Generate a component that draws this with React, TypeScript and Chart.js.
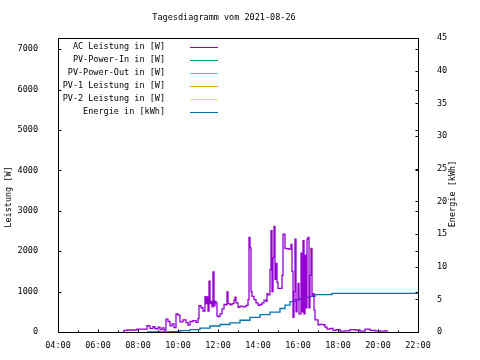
import React, { useEffect, useRef } from "react";
import { Chart, registerables } from "chart.js";

Chart.register(...registerables);

const chartTitle = "Tagesdiagramm vom 2021-08-26";
const leftAxisTitle = "Leistung [W]";
const rightAxisTitle = "Energie [kWh]";

const seriesLabels = [
  "AC Leistung in [W]",
  "PV-Power-In in [W]",
  "PV-Power-Out in [W]",
  "PV-1 Leistung in [W]",
  "PV-2 Leistung in [W]",
  "Energie in [kWh]",
];
const seriesColors = ["#9400D3", "#009E73", "#56B4E9", "#E69F00", "#F0E442", "#0072B2"];

const xTickLabels = ["04:00", "06:00", "08:00", "10:00", "12:00", "14:00", "16:00", "18:00", "20:00", "22:00"];
const xMinorTicks = ["05:00", "07:00", "09:00", "11:00", "13:00", "15:00", "17:00", "19:00", "21:00"];
const leftTicks = [0, 1000, 2000, 3000, 4000, 5000, 6000, 7000];
const rightTicks = [0, 5, 10, 15, 20, 25, 30, 35, 40, 45];
const leftMax = 7275;
const rightMax = 45;

const acTimes = [
  "07:15", "07:18", "07:27", "07:45", "07:57", "08:15", "08:27", "08:33", "08:36", "08:45",
  "08:51", "09:00", "09:06", "09:12", "09:18", "09:24", "09:30", "09:36", "09:42", "09:48",
  "09:54", "10:00", "10:06", "10:15", "10:24", "10:30", "10:36", "10:45", "10:54", "11:00",
  "11:03", "11:09", "11:15", "11:21", "11:24", "11:27", "11:30", "11:33", "11:36", "11:39",
  "11:42", "11:45", "11:48", "11:51", "11:54", "11:57", "12:00", "12:06", "12:12", "12:18",
  "12:24", "12:27", "12:30", "12:36", "12:42", "12:48", "12:51", "12:54", "13:00", "13:06",
  "13:15", "13:24", "13:30", "13:33", "13:36", "13:39", "13:42", "13:48", "13:54", "14:00",
  "14:06", "14:12", "14:18", "14:24", "14:27", "14:30", "14:36", "14:39", "14:42", "14:45",
  "14:48", "14:51", "14:54", "14:57", "15:00", "15:06", "15:12", "15:15", "15:21", "15:27",
  "15:33", "15:39", "15:42", "15:45", "15:48", "15:51", "15:54", "15:57", "16:00", "16:03",
  "16:09", "16:12", "16:15", "16:18", "16:21", "16:24", "16:27", "16:30", "16:33", "16:36",
  "16:39", "16:42", "16:45", "16:48", "16:51", "16:54", "17:00", "17:06", "17:15", "17:21",
  "17:27", "17:36", "17:45", "17:54", "18:06", "18:21", "18:36", "18:51", "19:06", "19:21",
  "19:36", "19:51", "20:06", "20:21", "20:27",
];
const acWatts = [
  0, 40, 50, 50, 70, 70, 155, 150, 90, 130,
  80, 120, 60, 100, 50, 320, 260, 150, 200, 110,
  445, 420, 250, 300, 230, 170, 260, 280, 240, 330,
  650, 600, 520, 875, 700, 870, 520, 1260, 700, 760,
  620, 1490, 650, 760, 720, 400, 380, 450, 570, 680,
  670, 990, 700, 670, 700, 790, 860, 720, 610, 640,
  620, 660, 800, 2340, 2080, 1000, 880, 800, 720, 660,
  680, 720, 790, 760, 950, 920, 1540, 2510, 1000, 1840,
  2610, 1300, 1700, 1230, 1080, 1080, 1400, 2420, 2070, 2060,
  2050, 2170, 1500, 360, 1000, 2300, 500, 800, 1200, 450,
  1950, 500, 2260, 450, 1900, 600, 2300, 2340, 600, 1400,
  2070, 900, 950, 540, 300, 300, 180, 190, 180, 120,
  70, 90, 40, 60, 20, 30, 60, 50, 20, 70,
  40, 30, 20, 30, 0,
];

const energyTimes = [
  "08:27", "09:06", "09:36", "10:06", "10:36", "11:06", "11:36", "12:06", "12:36", "13:06",
  "13:36", "14:06", "14:36", "15:06", "15:21", "15:36", "15:51", "16:06", "16:21", "16:36",
  "16:51", "17:39", "17:42", "22:00",
];
const energyKwh = [
  0, 0.02, 0.05, 0.2, 0.36, 0.6, 0.92, 1.15, 1.4, 1.8,
  2.25, 2.65, 3.03, 3.6, 4.1, 4.64, 4.95, 5.15, 5.32, 5.46,
  5.71, 5.74, 5.92, 5.92,
];

const toMin = (s: string) => {
  const [h, m] = s.split(":").map(Number);
  return h * 60 + m;
};
const fmtMin = (v: number) => {
  const h = Math.floor(v / 60);
  const m = v % 60;
  return `${String(h).padStart(2, "0")}:${String(m).padStart(2, "0")}`;
};

const FONT = "DejaVu Sans Mono";
const FS = 8.5;

const framePlugin = {
  id: "gnuframe",
  afterDraw(chart: any) {
    const { ctx, chartArea: a, scales } = chart;
    const x = scales.x, y = scales.y, y2 = scales.y2;
    ctx.save();
    ctx.strokeStyle = "#000";
    ctx.lineWidth = 1;
    const L = Math.round(a.left) + 0.5, R = Math.round(a.right) + 0.5;
    const T = Math.round(a.top) + 0.5, B = Math.round(a.bottom) + 0.5;
    ctx.beginPath();
    ctx.rect(L, T, R - L, B - T);
    leftTicks.forEach((v) => {
      const py = Math.round(y.getPixelForValue(v)) + 0.5;
      ctx.moveTo(L, py); ctx.lineTo(L + 3, py);
      ctx.moveTo(R, py); ctx.lineTo(R - 3, py);
    });
    rightTicks.forEach((v) => {
      const py = Math.round(y2.getPixelForValue(v)) + 0.5;
      ctx.moveTo(R, py); ctx.lineTo(R - 3, py);
    });
    xTickLabels.forEach((l) => {
      const px = Math.round(x.getPixelForValue(toMin(l))) + 0.5;
      ctx.moveTo(px, B); ctx.lineTo(px, B - 3);
    });
    xMinorTicks.forEach((l) => {
      const px = Math.round(x.getPixelForValue(toMin(l))) + 0.5;
      ctx.moveTo(px, B); ctx.lineTo(px, B - 2);
    });
    ctx.stroke();

    ctx.fillStyle = "#000";
    ctx.font = `${FS}px "${FONT}"`;
    ctx.textBaseline = "middle";
    ctx.textAlign = "center";
    ctx.fillText(chartTitle, 224, 18);

    ctx.save();
    ctx.translate(9, 197);
    ctx.rotate(-Math.PI / 2);
    ctx.fillText(leftAxisTitle, 0, 0);
    ctx.restore();
    ctx.save();
    ctx.translate(453, 194);
    ctx.rotate(-Math.PI / 2);
    ctx.fillText(rightAxisTitle, 0, 0);
    ctx.restore();

    ctx.textAlign = "right";
    chart.data.datasets.forEach((ds: any, i: number) => {
      const ly = 47 + 13 * i;
      ctx.fillStyle = "#000";
      ctx.fillText(ds.label, 165, ly);
      ctx.strokeStyle = ds.borderColor;
      ctx.beginPath();
      ctx.moveTo(190, ly + 0.5);
      ctx.lineTo(218, ly + 0.5);
      ctx.stroke();
    });
    ctx.restore();
  },
};

export default function App() {
  const ref = useRef<HTMLCanvasElement>(null);
  useEffect(() => {
    if (!ref.current) return;
    const acData = acTimes.map((t, i) => ({ x: toMin(t), y: acWatts[i] }));
    const enData = energyTimes.map((t, i) => ({ x: toMin(t), y: energyKwh[i] }));
    const datasets = seriesLabels.map((label, i) => ({
      label,
      data: i === 0 ? acData : i === 5 ? enData : [],
      yAxisID: i === 5 ? "y2" : "y",
      borderColor: seriesColors[i],
      backgroundColor: seriesColors[i],
      borderWidth: 1.3,
      pointRadius: 0,
      stepped: true,
      fill: false,
    }));
    const tickFont = { family: FONT, size: FS };
    const chart = new Chart(ref.current, {
      type: "line",
      data: { datasets } as any,
      plugins: [framePlugin],
      options: {
        animation: false,
        responsive: false,
        parsing: false as any,
        layout: { padding: { top: 38, left: 0, right: 0, bottom: 0 } },
        plugins: { legend: { display: false }, title: { display: false }, tooltip: { enabled: false } },
        scales: {
          x: {
            type: "linear",
            min: 240,
            max: 1320,
            grid: { display: false },
            border: { display: false },
            afterBuildTicks: (s: any) => { s.ticks = xTickLabels.map((l) => ({ value: toMin(l) })); },
            afterFit: (s: any) => { s.height = 28; },
            ticks: { color: "#000", font: tickFont, padding: 1, maxRotation: 0, autoSkip: false, callback: (v: any) => fmtMin(Number(v)) },
          },
          y: {
            type: "linear",
            position: "left",
            min: 0,
            max: leftMax,
            grid: { display: false },
            border: { display: false },
            afterBuildTicks: (s: any) => { s.ticks = leftTicks.map((v) => ({ value: v })); },
            afterFit: (s: any) => { s.width = 58; },
            ticks: { color: "#000", font: tickFont, padding: 12, callback: (v: any) => String(v) },
          },
          y2: {
            type: "linear",
            position: "right",
            min: 0,
            max: rightMax,
            grid: { display: false },
            border: { display: false },
            afterBuildTicks: (s: any) => { s.ticks = rightTicks.map((v) => ({ value: v })); },
            afterFit: (s: any) => { s.width = 62; },
            ticks: { color: "#000", font: tickFont, padding: 11, callback: (v: any) => String(v) },
          },
        },
      } as any,
    });
    return () => chart.destroy();
  }, []);
  return (
    <div style={{ position: "fixed", left: 0, top: 0, width: 480, height: 360, background: "#fff" }}>
      <canvas ref={ref} width={480} height={360} style={{ display: "block", width: 480, height: 360 }} />
    </div>
  );
}
